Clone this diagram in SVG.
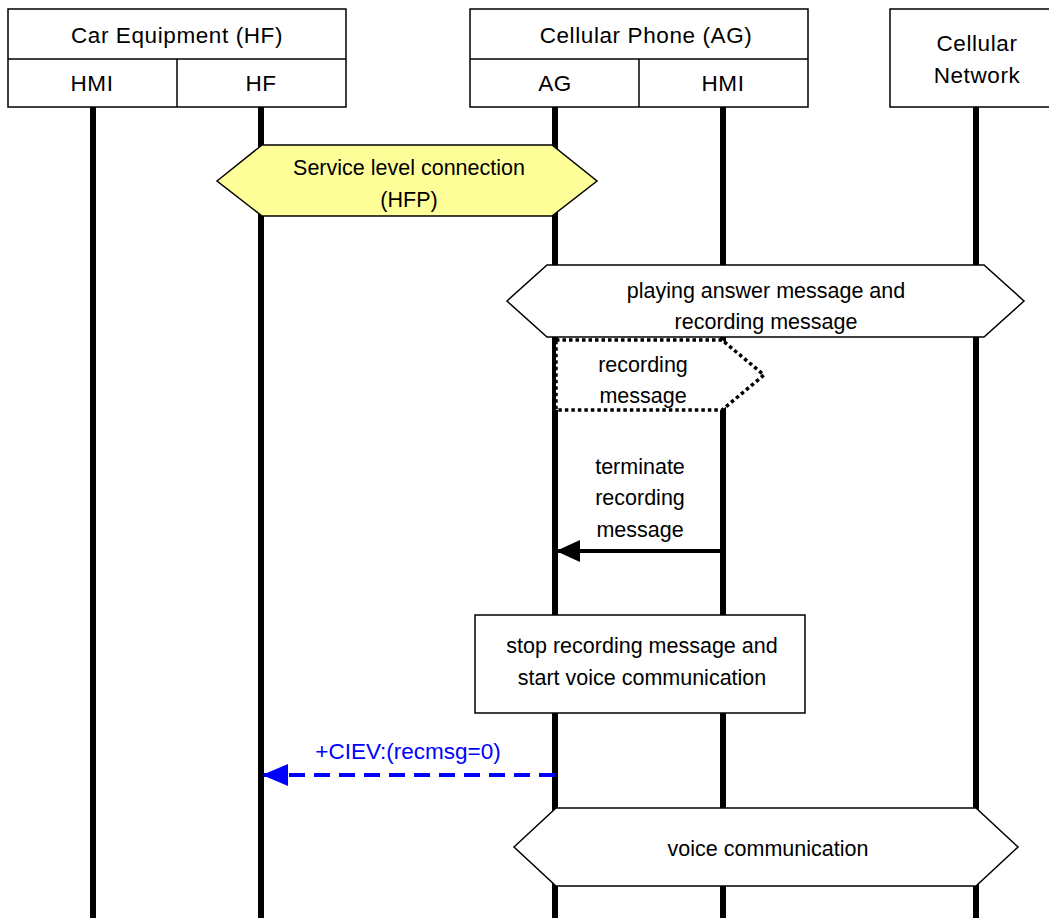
<svg xmlns="http://www.w3.org/2000/svg" width="1049" height="918" viewBox="0 0 1049 918">
<style>
text{font-family:"Liberation Sans",Arial,sans-serif;font-size:21.5px;fill:#000;text-anchor:middle}
text.hdr{font-size:22.5px;letter-spacing:0.6px}
.box{fill:#fff;stroke:#000;stroke-width:1.5}
.life{stroke:#000;stroke-width:6}
.hex{fill:#fff;stroke:#000;stroke-width:1.5}
.blue{fill:#0000ff}
</style>
<defs>
<marker id="ahBlack" markerWidth="24" markerHeight="22" refX="23" refY="11" orient="auto" markerUnits="userSpaceOnUse"><path d="M0,0 L24,11 L0,22 Z" fill="#000"/></marker>
<marker id="ahBlue" markerWidth="26" markerHeight="22" refX="25" refY="11" orient="auto" markerUnits="userSpaceOnUse"><path d="M0,0 L26,11 L0,22 Z" fill="#0000ff"/></marker>
</defs>
<rect width="1049" height="918" fill="#fff"/>
<g id="lifelines">
<line class="life" x1="93" y1="106" x2="93" y2="918"/>
<line class="life" x1="261" y1="106" x2="261" y2="918"/>
<line class="life" x1="555" y1="106" x2="555" y2="918"/>
<line class="life" x1="723" y1="106" x2="723" y2="918"/>
<line class="life" x1="976" y1="106" x2="976" y2="918"/>
</g>
<g id="car-equipment">
<rect class="box" x="8" y="9" width="338" height="98"/>
<line x1="8" y1="59" x2="346" y2="59" stroke="#000" stroke-width="1.5"/>
<line x1="177" y1="59" x2="177" y2="107" stroke="#000" stroke-width="1.5"/>
<text class="hdr" x="177" y="43">Car Equipment (HF)</text>
<text class="hdr" x="92" y="91">HMI</text>
<text class="hdr" x="261" y="91">HF</text>
</g>
<g id="cellular-phone">
<rect class="box" x="470" y="9" width="338" height="98"/>
<line x1="470" y1="59" x2="808" y2="59" stroke="#000" stroke-width="1.5"/>
<line x1="639" y1="59" x2="639" y2="107" stroke="#000" stroke-width="1.5"/>
<text class="hdr" x="646" y="43">Cellular Phone (AG)</text>
<text class="hdr" x="555" y="91">AG</text>
<text class="hdr" x="723" y="91">HMI</text>
</g>
<g id="cellular-network">
<rect class="box" x="890" y="9" width="175" height="98"/>
<text class="hdr" x="977" y="51">Cellular</text>
<text class="hdr" x="977" y="83">Network</text>
</g>
<g id="service-level-connection">
<polygon points="217,181 262,145 552,145 597,181 552,216 262,216" fill="#ffff99" stroke="#000" stroke-width="1.5"/>
<text x="409" y="175">Service level connection</text>
<text x="409" y="207">(HFP)</text>
</g>
<g id="playing-answer">
<polygon class="hex" points="507,301 547,265 984,265 1024,301 984,337 547,337"/>
<text x="766" y="298">playing answer message and</text>
<text x="766" y="329">recording message</text>
</g>
<g id="recording-message">
<polygon points="556,340 722,340 764,375 722,410 556,410" fill="#fff" stroke="#000" stroke-width="3.5" stroke-dasharray="3.5,3"/>
<text x="643" y="372">recording</text>
<text x="643" y="403">message</text>
</g>
<g id="stop-recording">
<rect class="box" x="475" y="615" width="330" height="98"/>
<text x="642" y="653">stop recording message and</text>
<text x="642" y="685">start voice communication</text>
</g>
<g id="voice-communication">
<polygon class="hex" points="514,847 556,808 976,808 1018,847 976,886 556,886"/>
<text x="768" y="856">voice communication</text>
</g>
<g id="connectors">
<line x1="723" y1="551" x2="557" y2="551" stroke="#000" stroke-width="4" marker-end="url(#ahBlack)"/>
<text x="640" y="474">terminate</text>
<text x="640" y="505">recording</text>
<text x="640" y="537">message</text>
<line x1="555" y1="775" x2="263" y2="775" stroke="#0000ff" stroke-width="4" stroke-dasharray="16,9" marker-end="url(#ahBlue)"/>
<text class="blue" x="408" y="759" style="font-size:22.5px">+CIEV:(recmsg=0)</text>
</g>
</svg>
